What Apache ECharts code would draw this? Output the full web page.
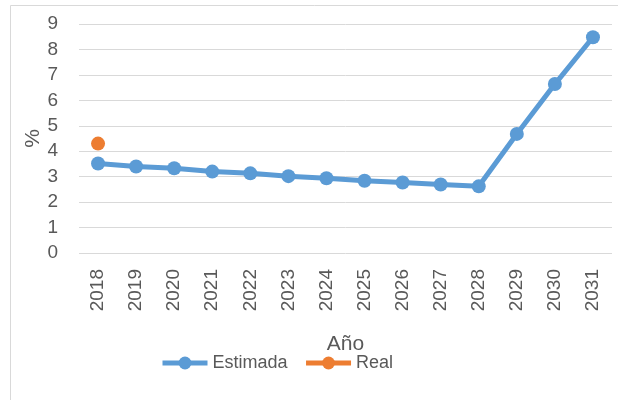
<!DOCTYPE html>
<html><head><meta charset="utf-8">
<script src="https://cdn.jsdelivr.net/npm/echarts@6/dist/echarts.min.js"></script>
<style>html,body{margin:0;padding:0;background:#fff}#c{width:618px;height:400px}</style>
</head><body><div id="c"></div>
<script>
const years = ['2018','2019','2020','2021','2022','2023','2024','2025','2026','2027','2028','2029','2030','2031'];
const estimada = [3.52, 3.4, 3.33, 3.2, 3.13, 3.02, 2.94, 2.84, 2.77, 2.69, 2.62, 4.68, 6.64, 8.48];
const real = [4.3, null, null, null, null, null, null, null, null, null, null, null, null, null];
const yTicks = [0,1,2,3,4,5,6,7,8,9];
const font = 'Liberation Sans';
const chart = echarts.init(document.getElementById('c'));
chart.setOption({
  animation:false,
  graphic:[{type:'rect',shape:{x:10.5,y:5.5,width:640,height:420},style:{fill:'none',stroke:'#d9d9d9',lineWidth:1}}],
  grid:{left:79,right:6,top:24,bottom:147},
  legend:{left:155,top:349,itemWidth:45,itemHeight:16,itemGap:16,
    lineStyle:{width:5},
    textStyle:{fontFamily:font,fontSize:18,color:'#595959'},
    data:['Estimada','Real']},
  xAxis:{type:'category',data:years,boundaryGap:true,
    axisLine:{show:false},axisTick:{show:false},
    axisLabel:{rotate:90,margin:16,fontFamily:font,fontSize:19,color:'#595959'},
    name:'Año',nameLocation:'middle',nameGap:81,nameMoveOverlap:false,
    nameTextStyle:{fontFamily:font,fontSize:21,color:'#595959'}},
  yAxis:{type:'value',min:yTicks[0],max:yTicks[yTicks.length-1],interval:1,
    axisLine:{show:false},axisTick:{show:false},
    splitLine:{lineStyle:{color:'#d9d9d9',width:1}},
    axisLabel:{margin:21,fontFamily:font,fontSize:19,color:'#595959'},
    name:'%',nameLocation:'middle',nameGap:35,nameMoveOverlap:false,
    nameTextStyle:{fontFamily:font,fontSize:21,color:'#595959'}},
  series:[
    {name:'Estimada',type:'line',data:estimada,symbol:'circle',symbolSize:14,
      lineStyle:{width:5,color:'#5B9BD5'},itemStyle:{color:'#5B9BD5'}},
    {name:'Real',type:'line',data:real,symbol:'circle',symbolSize:14,
      lineStyle:{width:5,color:'#ED7D31'},itemStyle:{color:'#ED7D31'}}
  ]
});
</script></body></html>
